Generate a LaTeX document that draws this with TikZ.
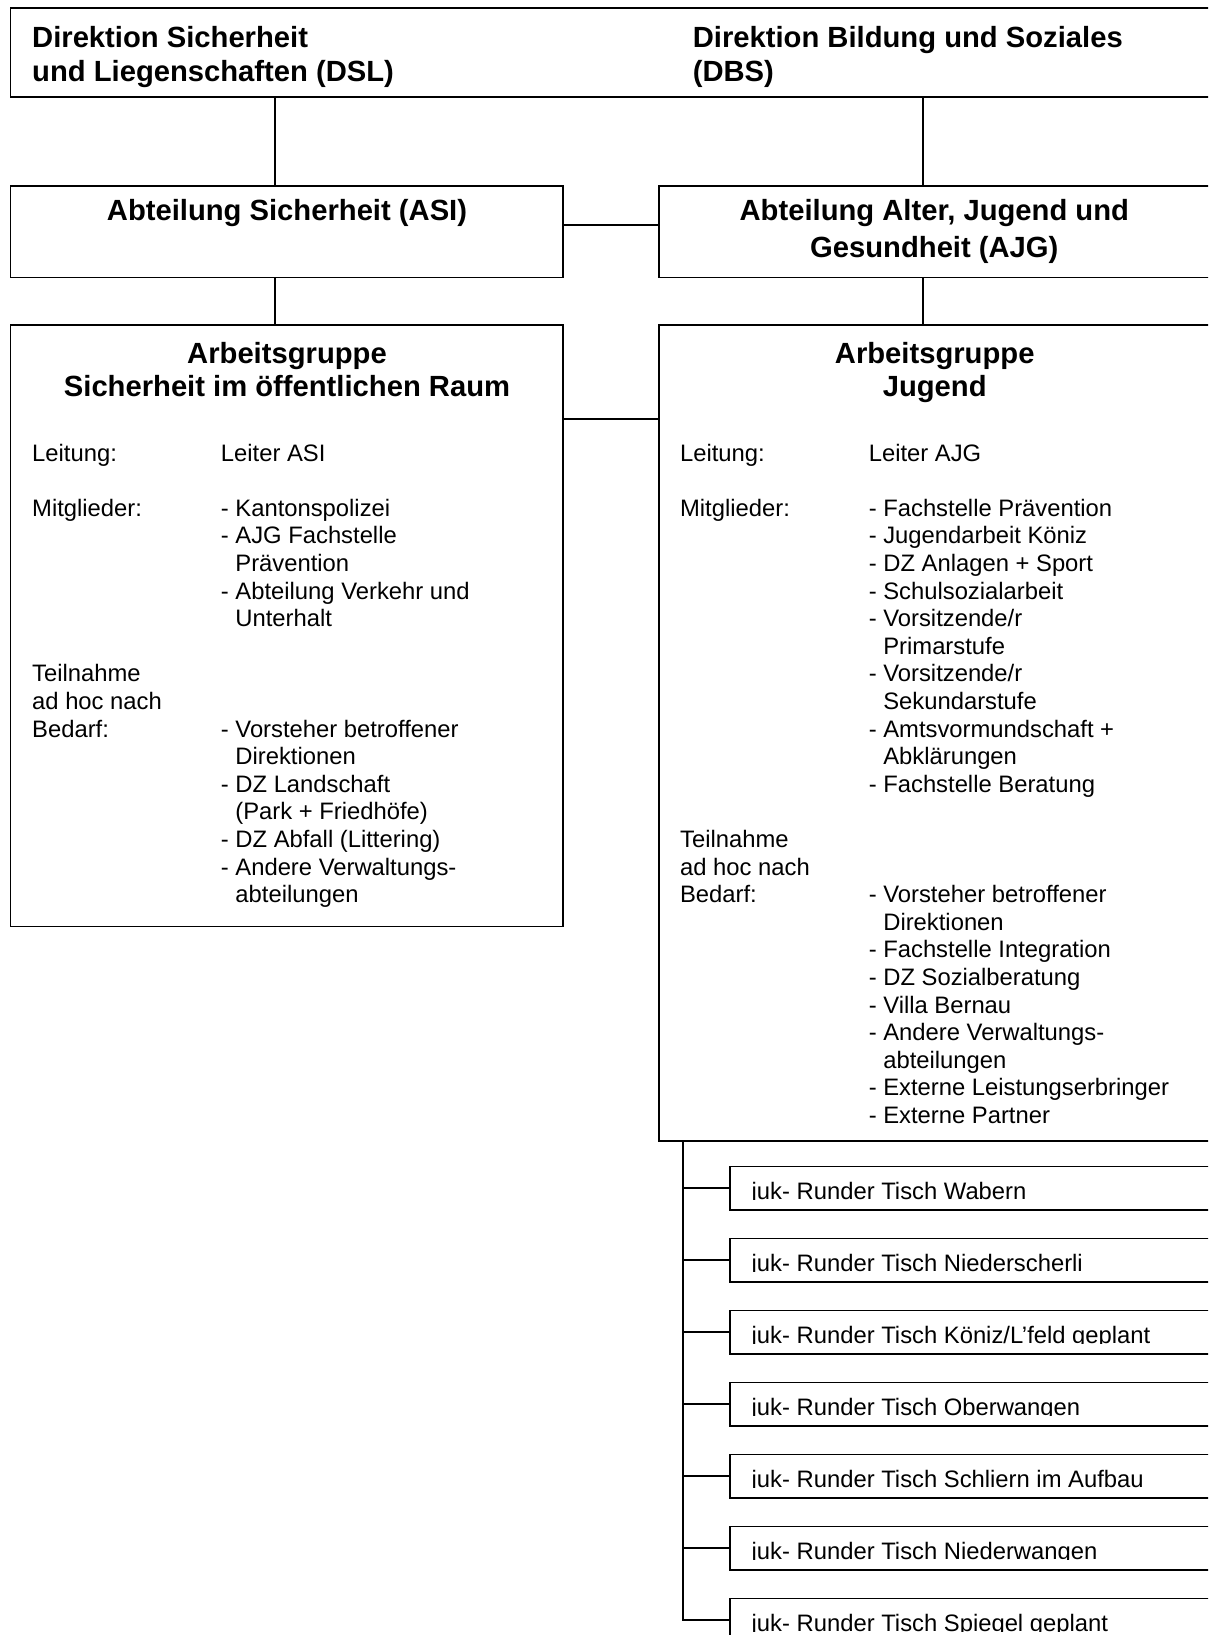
\documentclass[tikz,border=0pt]{standalone}
\usepackage{fontspec}
\setmainfont{Liberation Sans}
\begin{document}
\begin{tikzpicture}[x=1pt,y=-1pt,
  box/.style={draw, line width=1.7pt, inner sep=0pt, outer sep=0pt, anchor=north west},
  ln/.style={line width=1.7pt},
  hd/.style={font=\bfseries\fontsize{29.2}{33.6}\selectfont, inner sep=0pt},
  bd/.style={font=\fontsize{23.8}{27.5}\selectfont, inner sep=0pt, anchor=base west}]
\useasboundingbox (0,0) rectangle (1208,1635);
\fill[white] (0,0) rectangle (1208,1635);
\clip (0,0) rectangle (1208,1635);

% boxes
\node[box, minimum width=1230pt, minimum height=88.7pt] (dir) at (10.4,8.3) {};
\node[box, minimum width=552.6pt, minimum height=91.8pt] (asi) at (10.4,185.7) {};
\node[box, minimum width=600pt, minimum height=91.8pt] (ajg) at (658.7,185.7) {};
\node[box, minimum width=552.6pt, minimum height=601.2pt] (agl) at (10.4,325.3) {};
\node[box, minimum width=600pt, minimum height=815.7pt] (agr) at (658.7,325.3) {};
\foreach \i in {1,...,7}{
  \node[box, minimum width=500pt, minimum height=43.5pt] (s\i) at (730,{1166.5+72*(\i-1)}) {};
}

% headings
\node[hd, anchor=base west] (t1a) at (32,47.7) {Direktion Sicherheit};
\node[hd, anchor=base west] (t1b) at (32,82) {und Liegenschaften (DSL)};
\node[hd, anchor=base west] (t2a) at (692.6,47.7) {Direktion Bildung und Soziales};
\node[hd, anchor=base west] (t2b) at (692.6,82) {(DBS)};
\node[hd, anchor=base] (t3) at (287,220) {Abteilung Sicherheit (ASI)};
\node[hd, anchor=base] (t4a) at (934.3,220) {Abteilung Alter, Jugend und};
\node[hd, anchor=base] (t4b) at (934.3,257) {Gesundheit (AJG)};
\node[hd, anchor=base] (t5a) at (287,363.3) {Arbeitsgruppe};
\node[hd, anchor=base] (t5b) at (287,396.7) {Sicherheit im öffentlichen Raum};
\node[hd, anchor=base] (t6a) at (934.7,363.3) {Arbeitsgruppe};
\node[hd, anchor=base] (t6b) at (934.7,396.7) {Jugend};

% left working group
\foreach \n/\t [count=\k] in {0/{Leitung:},2/{Mitglieder:},8/{Teilnahme},9/{ad hoc nach},10/{Bedarf:}}{
  \node[bd] (ll\k) at (32,{461+27.6*\n}) {\t};
}
\foreach \n/\t [count=\k] in {0/{Leiter ASI},2/{- Kantonspolizei},3/{- AJG Fachstelle},4/{\hphantom{- }Prävention},5/{- Abteilung Verkehr und},6/{\hphantom{- }Unterhalt},10/{- Vorsteher betroffener},11/{\hphantom{- }Direktionen},12/{- DZ Landschaft},13/{\hphantom{- }(Park + Friedhöfe)},14/{- DZ Abfall (Littering)},15/{- Andere Verwaltungs-},16/{\hphantom{- }abteilungen}}{
  \node[bd] (lv\k) at (220.7,{461+27.6*\n}) {\t};
}

% right working group
\foreach \n/\t [count=\k] in {0/{Leitung:},2/{Mitglieder:},14/{Teilnahme},15/{ad hoc nach},16/{Bedarf:}}{
  \node[bd] (rl\k) at (679.9,{461+27.6*\n}) {\t};
}
\foreach \n/\t [count=\k] in {0/{Leiter AJG},2/{- Fachstelle Prävention},3/{- Jugendarbeit Köniz},4/{- DZ Anlagen + Sport},5/{- Schulsozialarbeit},6/{- Vorsitzende/r},7/{\hphantom{- }Primarstufe},8/{- Vorsitzende/r},9/{\hphantom{- }Sekundarstufe},10/{- Amtsvormundschaft +},11/{\hphantom{- }Abklärungen},12/{- Fachstelle Beratung},16/{- Vorsteher betroffener},17/{\hphantom{- }Direktionen},18/{- Fachstelle Integration},19/{- DZ Sozialberatung},20/{- Villa Bernau},21/{- Andere Verwaltungs-},22/{\hphantom{- }abteilungen},23/{- Externe Leistungserbringer},24/{- Externe Partner}}{
  \node[bd] (rv\k) at (868.6,{461+27.6*\n}) {\t};
}

% round tables (text clipped at the bottom as in the original)
\foreach \i/\t in {1/{Wabern},2/{Niederscherli},3/{Köniz/L’feld geplant},4/{Oberwangen},5/{Schliern im Aufbau},6/{Niederwangen},7/{Spiegel geplant}}{
  \begin{scope}
    \clip (730,{1166.5+72*(\i-1)}) rectangle (1208,{1166.5+72*(\i-1)+33.1});
    \node[bd] (st\i) at (751.5,{1166.5+72*(\i-1)+33}) {juk- Runder Tisch \t};
  \end{scope}
}

% connectors
\coordinate (xdsl) at (275,0);
\coordinate (xdbs) at (923,0);
\coordinate (yasi) at (0,225);
\coordinate (yag) at (0,419.2);
\coordinate (xbr) at (683,0);
\draw[ln] (dir.south -| xdsl) -- (asi.north -| xdsl);
\draw[ln] (asi.south -| xdsl) -- (agl.north -| xdsl);
\draw[ln] (dir.south -| xdbs) -- (ajg.north -| xdbs);
\draw[ln] (ajg.south -| xdbs) -- (agr.north -| xdbs);
\draw[ln] (asi.east |- yasi) -- (ajg.west |- yasi);
\draw[ln] (agl.east |- yag) -- (agr.west |- yag);
\draw[ln] (agr.south -| xbr) -- (s7.west -| xbr) -- (s7.west);
\foreach \i in {1,...,6}{
  \draw[ln] (s\i.west -| xbr) -- (s\i.west);
}
\end{tikzpicture}
\end{document}
